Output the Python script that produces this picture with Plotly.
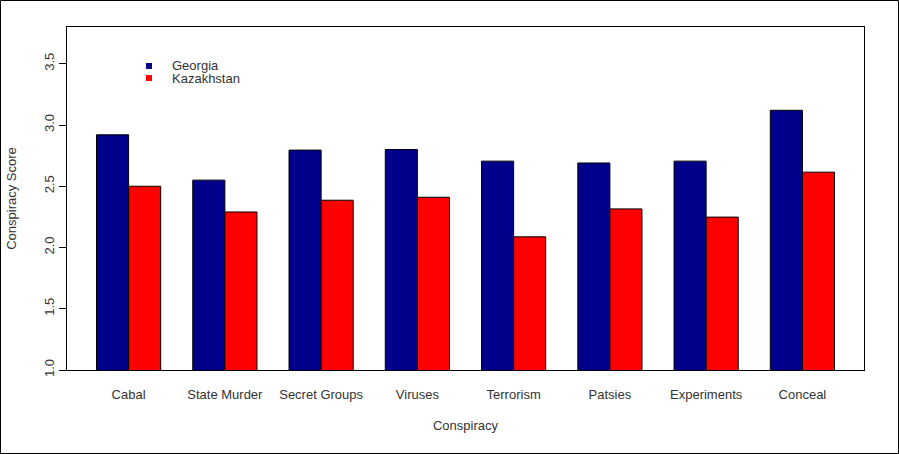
import plotly.graph_objects as go

categories = ["Cabal", "State Murder", "Secret Groups", "Viruses", "Terrorism", "Patsies", "Experiments", "Conceal"]
georgia = [2.92, 2.55, 2.795, 2.80, 2.705, 2.69, 2.705, 3.12]
kazakhstan = [2.50, 2.29, 2.386, 2.41, 2.087, 2.315, 2.248, 2.615]
series_names = ["Georgia", "Kazakhstan"]
series_colors = ["#00008B", "#FF0000"]
yticks = [1.0, 1.5, 2.0, 2.5, 3.0, 3.5]

W, H = 899, 454
ml, mr, mt, mb = 67, 35, 27, 84
pw, ph = W - ml - mr, H - mt - mb
font = "Liberation Sans, Arial, sans-serif"
tc = "#333333"
fs = 13

fig = go.Figure()
for name, vals, col in zip(series_names, [georgia, kazakhstan], series_colors):
    fig.add_trace(go.Bar(x=categories, y=vals, name=name, marker=dict(color=col, line=dict(color="black", width=1)),
                         showlegend=False))

fig.update_layout(
    width=W, height=H, barmode="group", bargap=1/3, bargroupgap=0,
    margin=dict(l=ml, r=mr, t=mt, b=mb),
    paper_bgcolor="white", plot_bgcolor="white",
    font=dict(family=font, size=fs, color=tc),
    xaxis=dict(range=[-0.64, 7.64], showline=True, mirror=True, linecolor="black", linewidth=1,
               ticks="", showgrid=False, tickfont=dict(size=fs, color=tc), ticklabelstandoff=12,
               title=dict(text="Conspiracy", standoff=20, font=dict(size=fs, color=tc))),
    yaxis=dict(range=[1.0, 3.8], showline=True, mirror=True, linecolor="black", linewidth=1,
               ticks="outside", ticklen=7, tickcolor="black", tickvals=yticks,
               ticktext=[f"{v:.1f}" for v in yticks], tickangle=-90, showgrid=False, zeroline=False,
               tickfont=dict(size=fs, color=tc),
               title=dict(text="Conspiracy Score", standoff=22, font=dict(size=fs, color=tc))),
)

# outer frame
fig.add_shape(type="rect", xref="paper", yref="paper",
              x0=-(ml - 0.5) / pw, x1=1 + (mr - 0.5) / pw, y0=-(mb - 0.5) / ph, y1=1 + (mt - 0.5) / ph,
              line=dict(color="black", width=1), fillcolor="rgba(0,0,0,0)", layer="above")

# legend
leg_x = (149 - ml) / pw
for i, (name, col) in enumerate(zip(series_names, series_colors)):
    yc = 66 + 12 * i
    yp = 1 - (yc - mt) / ph
    fig.add_shape(type="rect", xref="paper", yref="paper",
                  x0=leg_x - 3 / pw, x1=leg_x + 3 / pw, y0=yp - 3 / ph, y1=yp + 3 / ph,
                  line=dict(width=0), fillcolor=col)
    fig.add_annotation(xref="paper", yref="paper", x=(170 - ml) / pw, y=yp, text=name,
                       showarrow=False, xanchor="left", yanchor="middle", font=dict(size=fs, color=tc))

fig.write_html("out.html", config={"displayModeBar": False},
               post_script="document.body.style.margin='0';document.body.style.padding='0';")
